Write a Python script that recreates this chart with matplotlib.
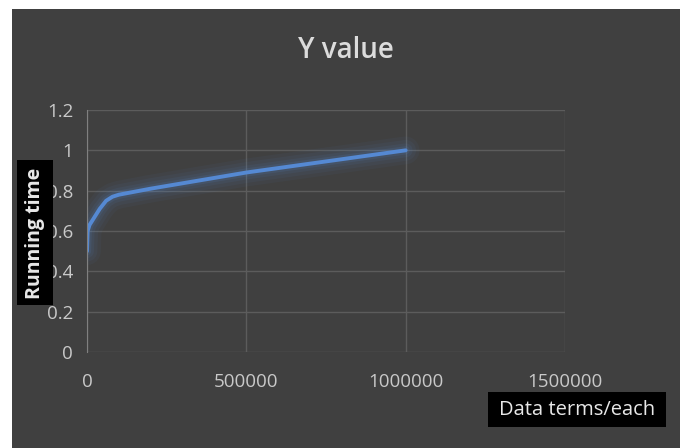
import matplotlib.pyplot as plt
from matplotlib.patches import Rectangle

# data terms vs running time
data_terms = [0, 2000, 8000, 20000, 40000, 60000, 80000, 100000, 200000, 500000, 1000000]
running_time = [0.5, 0.6, 0.63, 0.66, 0.71, 0.75, 0.77, 0.78, 0.81, 0.89, 1.0]

x_ticks = [0, 500000, 1000000, 1500000]
y_ticks = [0, 0.2, 0.4, 0.6, 0.8, 1.0, 1.2]
y_tick_labels = ['0', '0.2', '0.4', '0.6', '0.8', '1', '1.2']

bg = '#404040'
txt = '#c9c9c9'
line_color = '#5589d3'

plt.rcParams['font.family'] = ['Open Sans', 'DejaVu Sans']

W, H = 685, 448
fig = plt.figure(figsize=(W / 100, H / 100), dpi=100)
fig.patch.set_facecolor('white')


def px_rect(x0, y0, x1, y1, color, z):
    # rectangle given in pixel coords from the top-left corner
    fig.add_artist(Rectangle((x0 / W, 1 - y1 / H), (x1 - x0) / W, (y1 - y0) / H,
                             transform=fig.transFigure, facecolor=color,
                             edgecolor='none', zorder=z))


px_rect(12, 9, 680, 448, bg, 0)

ax = fig.add_axes([87 / W, 1 - 352 / H, 478 / W, 242 / H])
ax.set_facecolor(bg)

# soft glow under the line
for lw, a in [(20, 0.05), (15, 0.06), (10, 0.08), (6, 0.12)]:
    ax.plot(data_terms, running_time, color=line_color, lw=lw, alpha=a,
            solid_capstyle='round', solid_joinstyle='round')
ax.plot(data_terms, running_time, color=line_color, lw=2.8,
        solid_capstyle='round', solid_joinstyle='round')

ax.set_xlim(0, 1500000)
ax.set_ylim(0, 1.2)
ax.set_xticks(x_ticks)
ax.set_xticklabels([str(v) for v in x_ticks])
ax.set_yticks(y_ticks)
ax.set_yticklabels(y_tick_labels)
ax.grid(True, color='#5c5c5c', lw=1)
ax.set_axisbelow(True)

for side in ['top', 'right', 'bottom']:
    ax.spines[side].set_visible(False)
ax.spines['left'].set_color('#808080')
ax.tick_params(length=0, colors=txt, labelsize=13.5)
ax.tick_params(axis='x', pad=15)
ax.tick_params(axis='y', pad=10)

fig.text(0.505, 1 - 51 / H, 'Y value', ha='center', va='center',
         fontsize=20, color='#dcdcdc', fontweight='semibold')

# axis title boxes
px_rect(17, 160, 53, 305, 'black', 10)
fig.text(35 / W, 1 - 233 / H, 'Running time', rotation=90,
         ha='center', va='center', fontsize=14, fontweight='bold',
         color='#e8e8e8', zorder=11)
px_rect(488, 392, 666, 427, 'black', 10)
fig.text(577 / W, 1 - 410 / H, 'Data terms/each', ha='center', va='center',
         fontsize=14.5, color='#e8e8e8', zorder=11)

fig.savefig('out.png', dpi=100, facecolor=fig.get_facecolor())
